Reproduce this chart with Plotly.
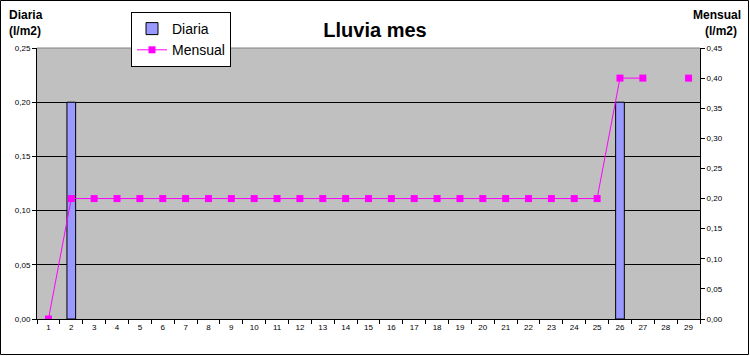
import plotly.graph_objects as go

days = [str(d) for d in range(1, 30)]
diaria = [None, 0.20, None, None, None, None, None, None, None, None, None, None, None, None, None,
          None, None, None, None, None, None, None, None, None, None, 0.20, None, None, None]
mensual = [0.0, 0.20, 0.20, 0.20, 0.20, 0.20, 0.20, 0.20, 0.20, 0.20, 0.20, 0.20, 0.20, 0.20, 0.20,
           0.20, 0.20, 0.20, 0.20, 0.20, 0.20, 0.20, 0.20, 0.20, 0.20, 0.40, 0.40, None, 0.40]

W, H = 750, 356
L, R, T, B = 37, 50, 48, 37
pw, ph = W - L - R, H - T - B
FONT = "Liberation Sans, Arial, sans-serif"

def px(x):
    return (x - L) / pw

def py(y):
    return 1 - (y - T) / ph

fig = go.Figure()
fig.add_trace(go.Bar(
    x=days, y=diaria, name="Diaria", width=0.38,
    marker=dict(color="#9999FF", line=dict(color="black", width=1)),
))
fig.add_trace(go.Scatter(
    x=days, y=mensual, name="Mensual", yaxis="y2", mode="lines+markers",
    connectgaps=False,
    line=dict(color="#FF00FF", width=1),
    marker=dict(symbol="square", size=7, color="#FF00FF"),
))

fig.update_layout(
    width=W, height=H,
    margin=dict(l=L, r=R, t=T, b=B),
    paper_bgcolor="white", plot_bgcolor="#C0C0C0",
    separators=",.",
    font=dict(family=FONT, color="black"),
    title=dict(text="<b>Lluvia mes</b>", x=px(375), xanchor="center", xref="paper",
               y=1 - 30 / H, yanchor="middle", yref="container",
               font=dict(size=20, family=FONT)),
    showlegend=True,
    legend=dict(x=px(131), y=py(12), xanchor="left", yanchor="top",
                bgcolor="white", bordercolor="black", borderwidth=1,
                font=dict(size=14, family=FONT), itemwidth=30),
    bargap=0.6,
    xaxis=dict(type="category", tickson="boundaries", ticks="outside", ticklen=4,
               tickcolor="black", showline=True, linecolor="black", linewidth=1,
               showgrid=False, tickfont=dict(size=8), range=[-0.5, 28.5]),
    yaxis=dict(range=[0, 0.25], dtick=0.05, tickformat=".2f", ticks="outside",
               ticklen=4, tickcolor="black", showline=True, linecolor="black",
               showgrid=True, gridcolor="black", gridwidth=1, zeroline=False,
               tickfont=dict(size=8)),
    yaxis2=dict(range=[0, 0.45], dtick=0.05, tickformat=".2f", overlaying="y",
                side="right", ticks="outside", ticklen=4, tickcolor="black",
                showline=True, linecolor="black", showgrid=False, zeroline=False,
                tickfont=dict(size=8)),
    shapes=[
        dict(type="line", xref="paper", yref="paper", x0=0, x1=1, y0=1, y1=1,
             line=dict(color="#808080", width=1), layer="above"),
        dict(type="rect", xref="paper", yref="paper",
             x0=px(0.5), x1=px(W - 1.5), y0=py(H - 1.5), y1=py(0.5),
             line=dict(color="black", width=1), fillcolor="rgba(0,0,0,0)"),
    ],
    annotations=[
        dict(text="<b>Diaria</b>", xref="paper", yref="paper", x=px(7), y=py(15),
             xanchor="left", yanchor="middle", showarrow=False, font=dict(size=12)),
        dict(text="<b>(l/m2)</b>", xref="paper", yref="paper", x=px(7), y=py(31),
             xanchor="left", yanchor="middle", showarrow=False, font=dict(size=12)),
        dict(text="<b>Mensual</b>", xref="paper", yref="paper", x=px(743), y=py(15),
             xanchor="right", yanchor="middle", showarrow=False, font=dict(size=12)),
        dict(text="<b>(l/m2)</b>", xref="paper", yref="paper", x=px(739), y=py(31),
             xanchor="right", yanchor="middle", showarrow=False, font=dict(size=12)),
    ],
)

fig.write_html("out.html")
